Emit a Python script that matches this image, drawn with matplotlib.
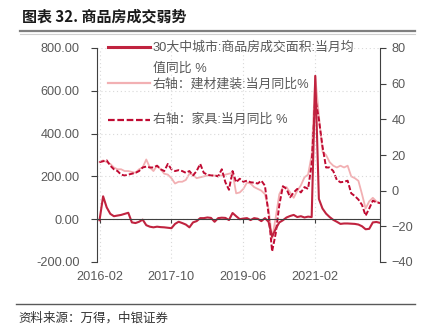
import matplotlib
matplotlib.use("Agg")
import matplotlib.pyplot as plt
from matplotlib.lines import Line2D
import pandas as pd

plt.rcParams['font.family'] = ['Liberation Sans', 'Noto Sans CJK SC', 'DejaVu Sans']

# Monthly observations, 2016-02 .. 2022-08
months = pd.period_range('2016-02', '2022-08', freq='M').strftime('%Y-%m').tolist()

# 30大中城市 商品房成交面积 当月均值同比 (%), left axis
housing_yoy = [
    -5, 107, 55, 25, 14, 17, 20, 25, 30, -15,
    -18, -12, -2, -28, -35, -38, -35, -37, -38, -40,
    -42, -22, -12, -18, -25, -38, -15, -9, 5, 5,
    8, 6, -12, 5, 7, 6, -4, 29, 14, 0,
    3, 5, -4, 5, 2, -9, 5, -12, -82, -45,
    -15, -5, 8, 15, 20, 10, 14, 8, 12, 10,
    670, 95, 50, 26, 10, -3, -12, -22, -20, -20,
    -21, -22, -25, -33, -47, -45, -15, -13, -17,
]

# 建材建装 当月同比 (%), right axis
building_yoy = [
    16, 17, 16, 15, 13, 12, 12, 11, 11, 10.5,
    10, 12, 13, 17.5, 13, 11, 14, 12, 9.5, 9,
    7, 4, 5, 5, 6, 9.5, 9, 7, 7.5, 8,
    8.5, 8.5, 8.5, 8.5, 8.5, 9, 9.5, 10, -1.5, -1,
    1, 4.5, 4, 2, 1, 0, -2, -10, -27, -15,
    -2, 2, 2, -1, -4, 0, 3, 7.5, 9, 20,
    64, 42, 22, 20, 16, 14, 13, 14, 13, 14,
    8, 7, 5.5, -2, -10, -6, -4, -6, -7,
]

# 家具 当月同比 (%), right axis
furniture_yoy = [
    16, 16.5, 17, 14, 12, 11, 9, 8.5, 9, 9.5,
    10, 11, 13, 13.5, 13, 13, 14, 12, 11, 15,
    12, 11, 11.5, 11, 10, 11, 8.5, 11, 15, 10,
    9, 8.5, 8.5, 8, 12, 4.7, 0.5, 11, 4.7, 6.7,
    5, 5.6, 4.7, 4.5, 4, 5.6, 2.8, -13, -34, -24,
    -8, 2.5, 1, -3.7, -1, 1, -1, 2, 1, 15,
    52, 40, 25, 13, 13, 11, 6, 4.7, 5, 5.6,
    -1.5, -3, -5, -8, -14, -10, -5.6, -6.5, -7,
]

labels = [
    '30大中城市:商品房成交面积:当月均\n值同比 %',
    '右轴：建材建装:当月同比%',
    '右轴：家具:当月同比 %',
]

C_MAIN = '#C0233F'
C_PINK = '#F2B0B3'
C_DASH = '#C00A32'
C_TEXT = '#595959'
C_AXIS = '#404040'

W, H = 430, 329
fig = plt.figure(figsize=(W / 100, H / 100), dpi=100)


def fx(px):
    return px / W


def fy(py):
    return 1 - py / H


ax = fig.add_axes([fx(97), fy(262), fx(380) - fx(97), fy(48) - fy(262)])
ax2 = ax.twinx()

x = list(range(len(months)))

ax2.plot(x, building_yoy, color=C_PINK, lw=1.3)
ax2.plot(x, furniture_yoy, color=C_DASH, lw=1.4, dashes=(2.6, 1.1))
ax.plot(x, housing_yoy, color=C_MAIN, lw=1.5)

ax.set_zorder(ax2.get_zorder() + 1)
ax.patch.set_visible(False)

ax.set_xlim(-0.7, len(months) - 1)
ax.set_ylim(-200, 800)
ax2.set_ylim(-40, 80)

ax.set_yticks([-200, 0, 200, 400, 600, 800])
ax.set_yticklabels([f'{v:.2f}' for v in [-200, 0, 200, 400, 600, 800]])
ax2.set_yticks([-40, -20, 0, 20, 40, 60, 80])

tick_idx = [0, 20, 40, 60]
ax.set_xticks(tick_idx)
ax.set_xticklabels([months[i] for i in tick_idx])

for s in ['top', 'right']:
    ax.spines[s].set_visible(False)
ax.spines['left'].set_color(C_AXIS)
ax.spines['bottom'].set_position(('data', 0))
ax.spines['bottom'].set_color(C_AXIS)
for s in ['top', 'left', 'bottom']:
    ax2.spines[s].set_visible(False)
ax2.spines['right'].set_color(C_AXIS)

ax.tick_params(axis='y', direction='out', length=4, pad=8.5, labelsize=9.2,
               labelcolor=C_TEXT, color=C_AXIS)
ax.tick_params(axis='x', direction='out', length=3, pad=34, labelsize=9.2,
               labelcolor=C_TEXT, color=C_AXIS)
ax2.tick_params(axis='y', direction='out', length=4, pad=4.3, labelsize=9.2,
                labelcolor=C_TEXT, color=C_AXIS)

ax.grid(True, axis='both', color='#D9D9D9', lw=0.8, linestyle=(0, (1, 2.5)))

# legend keys and labels
leg_y = [47, 83, 120]
leg_styles = [
    dict(color=C_MAIN, lw=2.2),
    dict(color=C_PINK, lw=1.6),
    dict(color=C_DASH, lw=1.6, dashes=(3, 1.2)),
]
for yy, st in zip(leg_y, leg_styles):
    fig.add_artist(Line2D([fx(108), fx(150)], [fy(yy), fy(yy)], **st))

lab1a, lab1b = labels[0].split('\n')
fig.text(fx(153), fy(48), lab1a, fontsize=9.3, color=C_TEXT, va='center', ha='left')
fig.text(fx(153), fy(69), lab1b, fontsize=9.3, color=C_TEXT, va='center', ha='left')
fig.text(fx(153), fy(84), labels[1], fontsize=9.3, color=C_TEXT, va='center', ha='left')
fig.text(fx(153), fy(120), labels[2], fontsize=9.3, color=C_TEXT, va='center', ha='left')

# heading and rules
fig.text(fx(22), fy(17), '图表 32. 商品房成交弱势', fontsize=10.8, fontweight='bold',
         color='#1A1A1A', va='center', ha='left',
         family=['Noto Sans CJK SC', 'DejaVu Sans'])
fig.add_artist(Line2D([fx(20), fx(415)], [fy(31), fy(31)], color='#7F7F7F', lw=1.6))
fig.add_artist(Line2D([fx(20), fx(415)], [fy(34), fy(34)], color='#D0D0D0', lw=0.8))
fig.add_artist(Line2D([fx(16), fx(415)], [fy(304), fy(304)], color='#595959', lw=1.0))

fig.text(fx(18), fy(318), '资料来源：万得，中银证券', fontsize=9, style='italic',
         color='#333333', va='center', ha='left',
         family=['Noto Sans CJK SC', 'DejaVu Sans'])

fig.savefig('out.png', dpi=100)
